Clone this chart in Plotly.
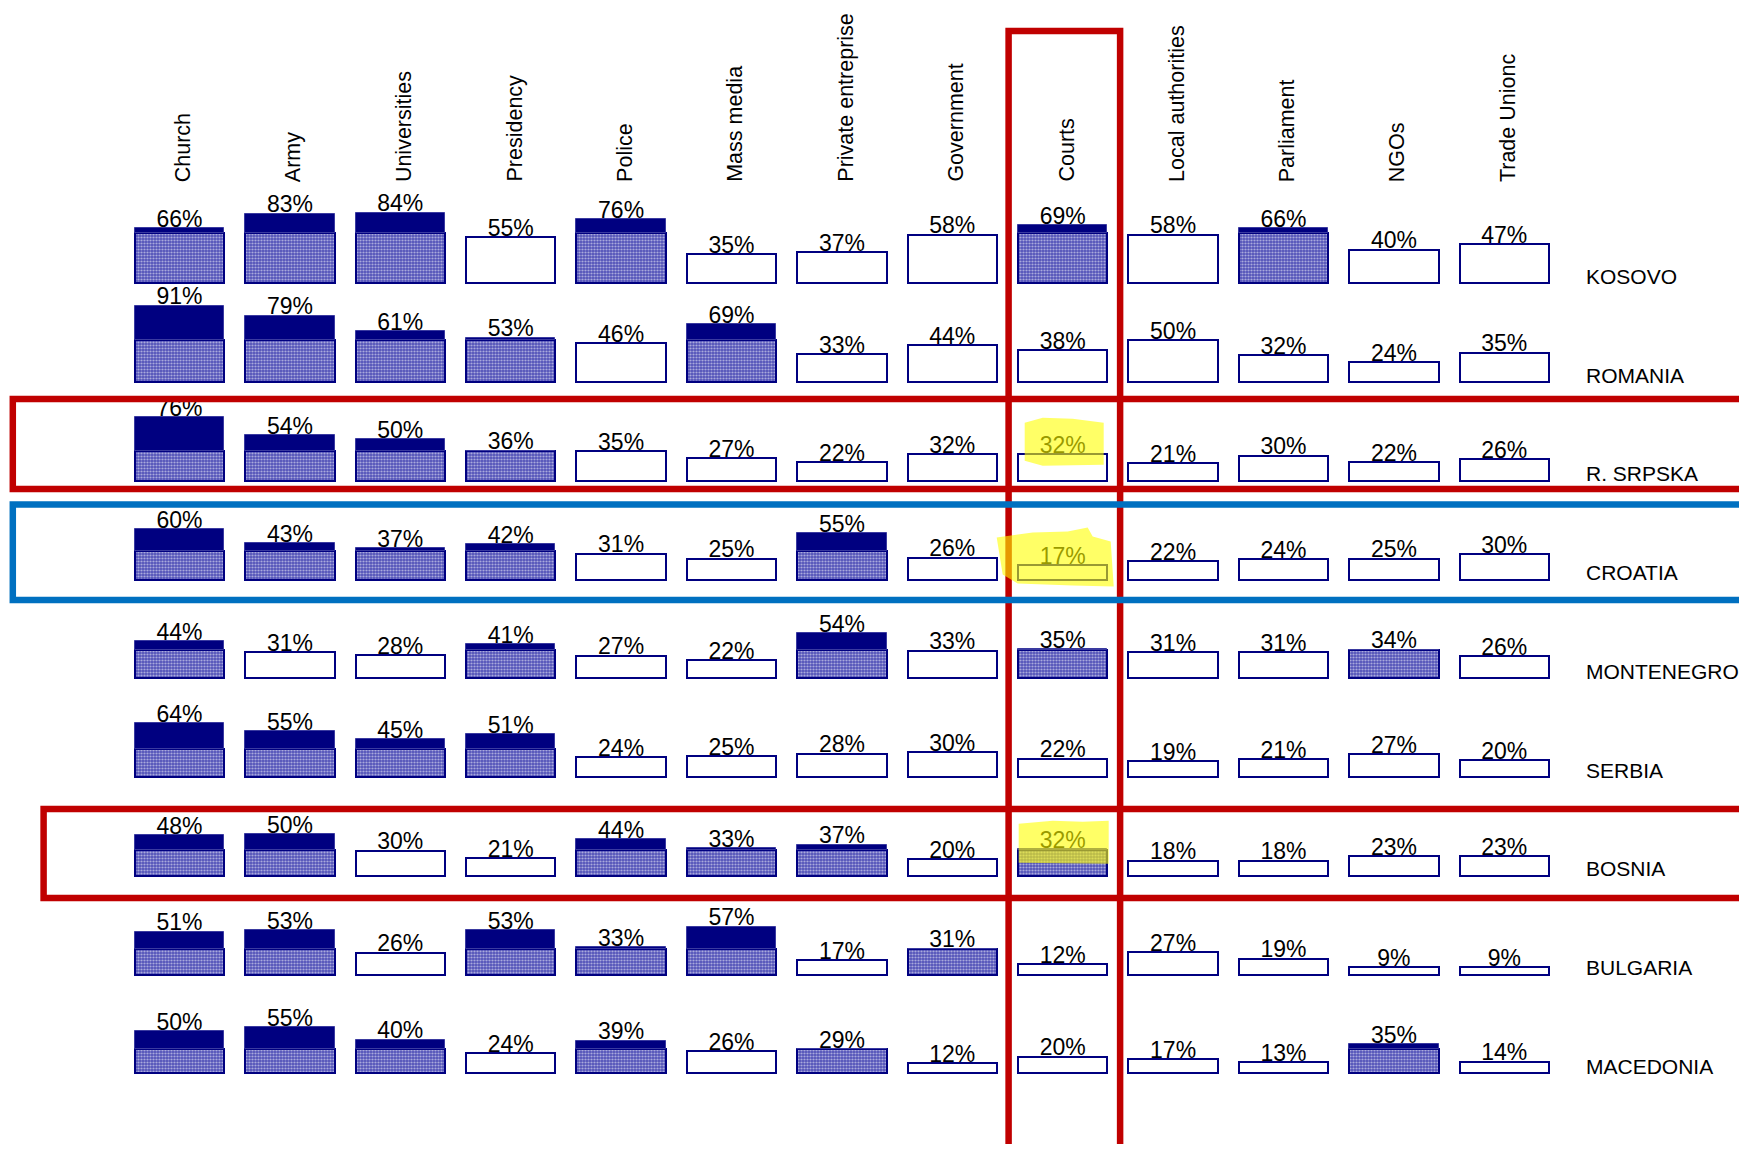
import plotly.graph_objects as go

# ---------------- data ----------------
institutions = ["Church", "Army", "Universities", "Presidency", "Police", "Mass media",
                "Private entreprise", "Government", "Courts", "Local authorities",
                "Parliament", "NGOs", "Trade Unionc"]
countries = ["KOSOVO", "ROMANIA", "R. SRPSKA", "CROATIA", "MONTENEGRO", "SERBIA",
             "BOSNIA", "BULGARIA", "MACEDONIA"]
kosovo     = [66, 83, 84, 55, 76, 35, 37, 58, 69, 58, 66, 40, 47]
romania    = [91, 79, 61, 53, 46, 69, 33, 44, 38, 50, 32, 24, 35]
r_srpska   = [76, 54, 50, 36, 35, 27, 22, 32, 32, 21, 30, 22, 26]
croatia    = [60, 43, 37, 42, 31, 25, 55, 26, 17, 22, 24, 25, 30]
montenegro = [44, 31, 28, 41, 27, 22, 54, 33, 35, 31, 31, 34, 26]
serbia     = [64, 55, 45, 51, 24, 25, 28, 30, 22, 19, 21, 27, 20]
bosnia     = [48, 50, 30, 21, 44, 33, 37, 20, 32, 18, 18, 23, 23]
bulgaria   = [51, 53, 26, 53, 33, 57, 17, 31, 12, 27, 19, 9, 9]
macedonia  = [50, 55, 40, 24, 39, 26, 29, 12, 20, 17, 13, 35, 14]
rows = [kosovo, romania, r_srpska, croatia, montenegro, serbia, bosnia, bulgaria, macedonia]

highlight_col = "Courts"                   # red column frame

# ---------------- layout geometry (pixels, in page coordinates) ----------------
PAGE_W, PAGE_H = 1747, 1152
BODY = 8                                   # default body margin of the html page
W, H = PAGE_W - 2 * BODY, PAGE_H - 2 * BODY
COL0_PX, COL_STEP_PX = 179.5, 110.4
ROW0_PX, ROW_STEP_PX = 283.3, 98.75
PPP = 0.84            # pixels per percentage point
BAR_W = 0.81          # in column units

NAVY = "#000080"
RED = "#C00000"
BLUE = "#0070C0"

def xd(px):
    return (px - COL0_PX) / COL_STEP_PX

def yd(py):
    return (ROW0_PX - py) / PPP

def row_base(r):
    return -r * ROW_STEP_PX / PPP

# ---------------- build bar segments ----------------
hx, hy, hb = [], [], []   # hatched part (up to row mean)
sx, sy, sb = [], [], []   # solid part (mean -> value)
wx, wy, wb = [], [], []   # white bars (value <= mean)
tx, ty, tt = [], [], []   # labels
for r, vals in enumerate(rows):
    base = row_base(r)
    mean = sum(vals) / len(vals)
    for c, v in enumerate(vals):
        if v > mean:
            hx.append(c); hy.append(mean); hb.append(base)
            sx.append(c); sy.append(v - mean); sb.append(base + mean)
        else:
            wx.append(c); wy.append(v); wb.append(base)
        tx.append(c); ty.append(base + v - 4.5 / PPP); tt.append(f"{v}%")

fig = go.Figure()
fig.add_trace(go.Bar(
    x=wx, y=wy, base=wb, width=BAR_W,
    marker=dict(color="white", line=dict(color=NAVY, width=2)),
    hoverinfo="skip", showlegend=False))
fig.add_trace(go.Bar(
    x=hx, y=hy, base=hb, width=BAR_W,
    marker=dict(color="#5252b8", line=dict(color=NAVY, width=2),
                pattern=dict(shape=".", fgcolor="white", bgcolor="#5252b8",
                             size=3, solidity=0.42)),
    hoverinfo="skip", showlegend=False))
fig.add_trace(go.Bar(
    x=sx, y=sy, base=sb, width=BAR_W,
    marker=dict(color=NAVY, line=dict(color="#3a3aa0", width=1)),
    hoverinfo="skip", showlegend=False))
fig.add_trace(go.Scatter(
    x=tx, y=ty, text=tt, mode="text", textposition="top center",
    textfont=dict(family="Liberation Sans Narrow, Arial Narrow, Liberation Sans, Arial",
                  size=23, color="black"),
    hoverinfo="skip", showlegend=False, cliponaxis=False))

annotations = []
# column headers (rotated)
for c, name in enumerate(institutions):
    annotations.append(dict(
        x=c + 0.03, y=yd(184), xref="x", yref="y", text=name, textangle=-90,
        showarrow=False, xanchor="center", yanchor="bottom",
        font=dict(family="Liberation Sans, Arial", size=21.5, color="black")))
# country labels
for r, name in enumerate(countries):
    annotations.append(dict(
        x=xd(1584), y=row_base(r) + 7 / PPP, xref="x", yref="y", text=name,
        showarrow=False, xanchor="left", yanchor="middle",
        font=dict(family="Liberation Sans, Arial", size=21, color="black")))

shapes = []
# red frame around the Courts column
ci = institutions.index(highlight_col)
shapes.append(dict(type="rect", xref="x", yref="y", layer="above",
                   x0=ci - 0.49, x1=ci + 0.52, y0=yd(1149), y1=yd(31),
                   line=dict(color=RED, width=6.5), fillcolor="rgba(0,0,0,0)"))
# row frames: (country, color, top offset px, bottom offset px, left px)
row_frames = [("R. SRPSKA", RED, -81.8, 8.2, 12.8),
              ("CROATIA", BLUE, -75.0, 20.5, 12.8),
              ("BOSNIA", RED, -66.8, 22.2, 43.6)]
for name, col, top, bot, left in row_frames:
    r = countries.index(name)
    bpx = ROW0_PX + r * ROW_STEP_PX
    shapes.append(dict(type="rect", xref="x", yref="y", layer="above",
                       x0=xd(left), x1=xd(PAGE_W + 40), y0=yd(bpx + bot), y1=yd(bpx + top),
                       line=dict(color=col, width=6.5), fillcolor="rgba(0,0,0,0)"))

# yellow highlighter strokes over the Courts labels (pixel offsets from cell centre/base)
strokes = {
    "R. SRPSKA": [(-38, -58), (-20, -63), (10, -62), (41, -58), (41, -16), (-20, -15), (-38, -20)],
    "CROATIA":   [(-66, -42), (-30, -47), (5, -48), (25, -52), (30, -43), (48, -38), (51, 7), (10, 6), (-45, 4), (-60, -5)],
    "BOSNIA":    [(-44, -52), (-10, -55), (20, -54), (46, -55), (46, -12), (-44, -13)],
}
for name, pts in strokes.items():
    r = countries.index(name)
    bpx = ROW0_PX + r * ROW_STEP_PX
    cpx = COL0_PX + ci * COL_STEP_PX
    path = "M " + " L ".join(f"{xd(cpx + dx):.4f},{yd(bpx + dy):.4f}" for dx, dy in pts) + " Z"
    shapes.append(dict(type="path", path=path, xref="x", yref="y", layer="above",
                       fillcolor="rgba(255,255,0,0.6)", line=dict(width=0)))

fig.update_layout(
    width=W, height=H, margin=dict(l=0, r=0, t=0, b=0),
    paper_bgcolor="white", plot_bgcolor="white",
    barmode="overlay", bargap=0,
    # axis ranges expressed in page pixels, shifted by the body margin
    xaxis=dict(range=[xd(BODY), xd(BODY + W)], visible=False, fixedrange=True),
    yaxis=dict(range=[yd(BODY + H), yd(BODY)], visible=False, fixedrange=True),
    annotations=annotations, shapes=shapes, showlegend=False,
)

fig.write_html("out.html")
